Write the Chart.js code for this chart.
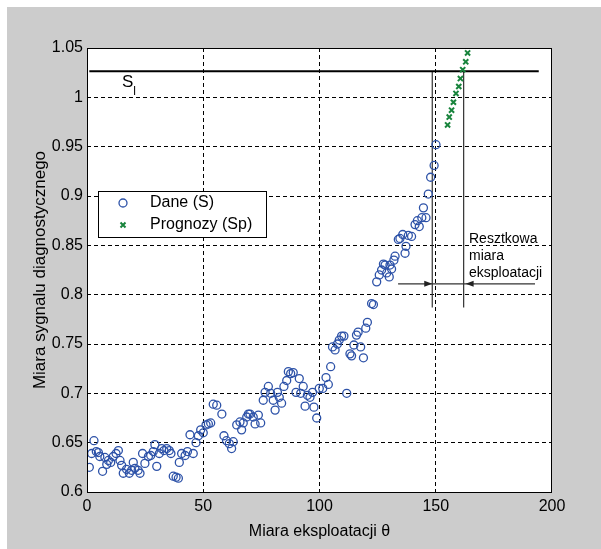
<!DOCTYPE html>
<html>
<head>
<meta charset="utf-8">
<script src="https://cdn.jsdelivr.net/npm/chart.js@4"></script>
<style>
  body { margin: 0; background: #ffffff; }
  canvas { display: block; }
</style>
</head>
<body>
<canvas id="myChart" width="601" height="549"></canvas>
<script>
const daneTheta = [
  1.0, 2.0, 3.0, 4.0, 4.9, 5.5, 6.7, 7.7, 8.5, 9.2, 10.2, 11.3, 12.5, 13.5, 14.2, 14.9, 15.6, 17.0, 18.2, 19.2,
  19.9, 20.6, 22.0, 22.8, 23.9, 24.9, 26.4, 27.4, 28.5, 29.2, 30.0, 31.1, 32.1, 33.1, 34.3, 35.4, 36.1, 37.1, 38.3, 39.3,
  39.7, 40.7, 42.2, 43.2, 44.3, 45.7, 46.9, 47.9, 48.9, 50.0, 51.2, 52.2, 53.2, 54.3, 55.8, 58.0, 58.9, 60.0, 61.2, 62.2,
  62.9, 64.4, 65.8, 66.5, 67.2, 68.7, 69.4, 70.1, 71.5, 72.3, 73.7, 74.7, 75.8, 76.6, 78.0, 79.0, 80.1, 80.9, 81.9, 82.7,
  83.7, 84.7, 85.9, 86.6, 87.6, 88.7, 89.9, 91.3, 91.9, 93.0, 93.8, 94.8, 95.9, 97.0, 97.6, 98.8, 99.9, 101.4, 102.8, 103.8,
  104.8, 105.6, 106.7, 107.7, 108.5, 109.5, 110.5, 111.7, 113.1, 113.8, 114.8, 115.9, 116.6, 117.7, 118.9, 119.9, 120.6, 122.4, 123.2, 124.6,
  125.7, 126.7, 127.5, 128.2, 128.9, 130.0, 130.3, 131.0, 132.0, 132.5, 133.9, 134.6, 135.8, 136.8, 137.2, 138.2, 139.6, 141.1, 142.1, 142.9,
  144.0, 144.7, 145.8, 146.8, 147.8, 149.3, 150.1
];
const daneS = [
  0.625, 0.639, 0.652, 0.641, 0.640, 0.636, 0.621, 0.635, 0.628, 0.632, 0.630, 0.636, 0.639, 0.642, 0.632, 0.627, 0.619, 0.623, 0.619, 0.622,
  0.630, 0.624, 0.622, 0.619, 0.639, 0.629, 0.636, 0.637, 0.641, 0.648, 0.626, 0.639, 0.644, 0.642, 0.644, 0.642, 0.639, 0.616, 0.615, 0.614,
  0.630, 0.639, 0.637, 0.641, 0.658, 0.639, 0.650, 0.657, 0.663, 0.660, 0.668, 0.669, 0.670, 0.689, 0.688, 0.679, 0.657, 0.652, 0.649, 0.644,
  0.651, 0.668, 0.671, 0.663, 0.670, 0.676, 0.679, 0.679, 0.676, 0.669, 0.678, 0.670, 0.693, 0.701, 0.707, 0.700, 0.693, 0.683, 0.701, 0.696,
  0.690, 0.707, 0.713, 0.722, 0.720, 0.721, 0.701, 0.715, 0.700, 0.707, 0.687, 0.698, 0.696, 0.701, 0.686, 0.675, 0.705, 0.705, 0.716, 0.709,
  0.727, 0.747, 0.744, 0.750, 0.754, 0.758, 0.758, 0.700, 0.740, 0.738, 0.749, 0.759, 0.762, 0.747, 0.736, 0.766, 0.772, 0.791, 0.790, 0.813,
  0.820, 0.825, 0.831, 0.830, 0.822, 0.818, 0.830, 0.826, 0.835, 0.839, 0.856, 0.857, 0.861, 0.842, 0.849, 0.860, 0.859, 0.871, 0.875, 0.869,
  0.878, 0.888, 0.878, 0.902, 0.919, 0.931, 0.952
];

// Forecast (Sp)
const prognozyTheta = [155.1, 155.8, 156.8, 157.6, 158.7, 159.9, 160.6, 161.6, 162.9, 163.7];
const prognozySp = [0.972, 0.980, 0.987, 0.995, 1.004, 1.011, 1.019, 1.028, 1.036, 1.045];

// Axis ticks
const xTicks = [0, 50, 100, 150, 200];
const yTicks = [0.6, 0.65, 0.7, 0.75, 0.8, 0.85, 0.9, 0.95, 1.0, 1.05];

// Limit level S_l and the residual-life markers
const limitLevel = 1.0265;
const limitLineTheta = [1, 194.3];
const currentTheta = 148.5;   // last measurement
const crossingTheta = 162;    // forecast crosses S_l
const markerBottom = 0.787;
const arrowLevel = 0.811;
const arrowTheta = [133.8, 192.7];
const limitLabel = { theta: 15.0, value: 1.0107 };
const noteLabel = { theta: 164.3, value: 0.8525, lines: ['Resztkowa', 'miara', 'eksploatacji'] };

const FONT = "'Liberation Sans', Arial, Helvetica, sans-serif";
Chart.defaults.font.family = FONT;
Chart.defaults.color = '#000000';

const blue = '#2d52a8';
const green = '#18843c';

const toPoints = (xs, ys) => xs.map((x, i) => ({ x: x, y: ys[i] }));

// Grey figure background with white plot box
const backgroundPlugin = {
  id: 'figureBackground',
  beforeDraw(chart) {
    const { ctx, chartArea: a } = chart;
    ctx.save();
    ctx.fillStyle = '#ffffff';
    ctx.fillRect(0, 0, chart.width, chart.height);
    ctx.fillStyle = '#cccccc';
    ctx.fillRect(7, 7, chart.width - 7, chart.height - 7);
    ctx.fillStyle = '#ffffff';
    ctx.fillRect(a.left, a.top, a.right - a.left, a.bottom - a.top);
    ctx.restore();
  }
};

// Arrowheads, text labels, legend box and axes frame
const overlayPlugin = {
  id: 'overlay',
  afterDraw(chart) {
    const { ctx, chartArea: a } = chart;
    const xs = chart.scales.x;
    const ys = chart.scales.y;
    ctx.save();

    // arrowheads pointing at the two vertical lines
    const ay = ys.getPixelForValue(arrowLevel);
    const t1 = xs.getPixelForValue(currentTheta);
    const t2 = xs.getPixelForValue(crossingTheta);
    ctx.fillStyle = '#222222';
    ctx.beginPath();
    ctx.moveTo(t1, ay);
    ctx.lineTo(t1 - 8, ay - 3);
    ctx.lineTo(t1 - 8, ay + 3);
    ctx.closePath();
    ctx.fill();
    ctx.beginPath();
    ctx.moveTo(t2 + 2, ay);
    ctx.lineTo(t2 + 10, ay - 3);
    ctx.lineTo(t2 + 10, ay + 3);
    ctx.closePath();
    ctx.fill();

    // S_l label
    ctx.fillStyle = '#000000';
    ctx.textBaseline = 'alphabetic';
    ctx.textAlign = 'left';
    ctx.font = '17px ' + FONT;
    const sx = xs.getPixelForValue(limitLabel.theta);
    const sy = ys.getPixelForValue(limitLabel.value);
    ctx.fillText('S', sx, sy);
    const sw = ctx.measureText('S').width;
    ctx.font = '12px ' + FONT;
    ctx.fillText('l', sx + sw, sy + 8);

    // residual life note
    ctx.font = '14px ' + FONT;
    const nx = xs.getPixelForValue(noteLabel.theta);
    const ny = ys.getPixelForValue(noteLabel.value);
    noteLabel.lines.forEach((line, i) => ctx.fillText(line, nx, ny + i * 17));

    // legend
    const lx = a.left + 11, ly = 191, lw = 168, lh = 46;
    ctx.fillStyle = '#ffffff';
    ctx.fillRect(lx, ly, lw, lh);
    ctx.strokeStyle = '#000000';
    ctx.lineWidth = 1;
    ctx.strokeRect(lx + 0.5, ly + 0.5, lw, lh);
    ctx.strokeStyle = blue;
    ctx.lineWidth = 1.3;
    ctx.beginPath();
    ctx.arc(lx + 25, ly + 12, 4, 0, Math.PI * 2);
    ctx.stroke();
    ctx.strokeStyle = green;
    ctx.lineWidth = 2;
    ctx.beginPath();
    ctx.moveTo(lx + 22.5, ly + 31.5); ctx.lineTo(lx + 27.5, ly + 36.5);
    ctx.moveTo(lx + 27.5, ly + 31.5); ctx.lineTo(lx + 22.5, ly + 36.5);
    ctx.stroke();
    ctx.fillStyle = '#000000';
    ctx.font = '16px ' + FONT;
    ctx.textBaseline = 'middle';
    ctx.fillText('Dane (S)', lx + 52, ly + 12);
    ctx.fillText('Prognozy (Sp)', lx + 52, ly + 34);

    // axes frame
    ctx.strokeStyle = '#000000';
    ctx.lineWidth = 1;
    ctx.strokeRect(a.left + 0.5, a.top + 0.5, a.right - a.left - 1, a.bottom - a.top);
    ctx.restore();
  }
};

const config = {
  type: 'scatter',
  data: {
    datasets: [
      {
        label: 'Dane (S)',
        data: toPoints(daneTheta, daneS),
        pointStyle: 'circle',
        pointRadius: 4,
        pointBorderWidth: 1.3,
        borderColor: blue,
        backgroundColor: 'rgba(0,0,0,0)'
      },
      {
        label: 'Prognozy (Sp)',
        data: toPoints(prognozyTheta, prognozySp),
        pointStyle: 'crossRot',
        pointRadius: 3.6,
        pointBorderWidth: 2,
        borderColor: green,
        backgroundColor: green
      },
      {
        label: 'S_l',
        data: limitLineTheta.map(t => ({ x: t, y: limitLevel })),
        showLine: true,
        pointRadius: 0,
        borderColor: '#000000',
        borderWidth: 2
      },
      {
        label: 'current',
        data: [{ x: currentTheta, y: limitLevel }, { x: currentTheta, y: markerBottom }],
        showLine: true,
        pointRadius: 0,
        borderColor: '#333333',
        borderWidth: 1.2
      },
      {
        label: 'crossing',
        data: [{ x: crossingTheta, y: limitLevel }, { x: crossingTheta, y: markerBottom }],
        showLine: true,
        pointRadius: 0,
        borderColor: '#333333',
        borderWidth: 1.2
      },
      {
        label: 'arrow',
        data: arrowTheta.map(t => ({ x: t, y: arrowLevel })),
        showLine: true,
        pointRadius: 0,
        borderColor: '#333333',
        borderWidth: 1.2
      }
    ]
  },
  options: {
    responsive: false,
    devicePixelRatio: 1,
    animation: false,
    events: [],
    layout: { padding: { left: 0, top: 48, right: 49, bottom: 0 } },
    plugins: {
      legend: { display: false },
      tooltip: { enabled: false }
    },
    scales: {
      x: {
        type: 'linear',
        min: 0,
        max: 200,
        afterBuildTicks: scale => { scale.ticks = xTicks.map(v => ({ value: v })); },
        afterFit: scale => { scale.height = 57; },
        grid: {
          color: ctx => (ctx.tick && (ctx.tick.value === 0 || ctx.tick.value === 200)) ? 'rgba(0,0,0,0)' : '#000000',
          lineWidth: 1,
          drawTicks: false
        },
        border: { display: false, dash: [4, 3] },
        ticks: {
          padding: 5,
          font: { size: 16 },
          color: '#000000',
          maxRotation: 0,
          callback: v => String(v)
        },
        title: {
          display: true,
          text: 'Miara eksploatacji θ',
          font: { size: 16 },
          color: '#000000',
          padding: { top: 0, bottom: 8 }
        }
      },
      y: {
        type: 'linear',
        min: 0.6,
        max: 1.05,
        afterBuildTicks: scale => { scale.ticks = yTicks.map(v => ({ value: v })); },
        afterFit: scale => { scale.width = 87; },
        grid: {
          color: ctx => (ctx.tick && (ctx.tick.value === 0.6 || ctx.tick.value === 1.05)) ? 'rgba(0,0,0,0)' : '#000000',
          lineWidth: 1,
          drawTicks: false
        },
        border: { display: false, dash: [4, 3] },
        ticks: {
          padding: 4,
          font: { size: 16 },
          color: '#000000',
          callback: v => String(Number(v.toFixed(2)))
        },
        title: {
          display: true,
          text: 'Miara sygnalu diagnostycznego',
          font: { size: 17 },
          color: '#000000',
          padding: { top: 30, bottom: 0 }
        }
      }
    }
  },
  plugins: [backgroundPlugin, overlayPlugin]
};

const canvas = document.getElementById('myChart');
const myChart = new Chart(canvas.getContext('2d'), config);
</script>
</body>
</html>
